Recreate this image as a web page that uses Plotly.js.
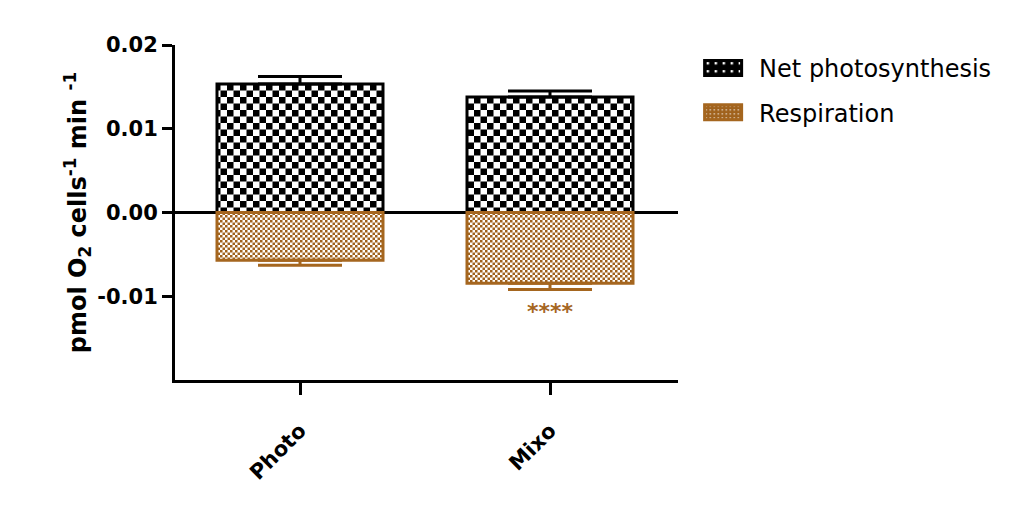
<!DOCTYPE html>
<html>
<head>
<meta charset="utf-8">
<script src="https://cdn.plot.ly/plotly-3.0.1.min.js"></script>
<style>html,body{margin:0;padding:0;background:#fff;}#chart{width:1015px;height:513px;}</style>
</head>
<body>
<div id="chart"></div>
<script>
// ---- data ----
var categories = ['Photo', 'Mixo'];
var netPhotosynthesis = [0.01535, 0.0138];
var netPhotosynthesisErr = [0.0009, 0.0007];
var respiration = [-0.0057, -0.00845];
var respirationErr = [0.0006, 0.00075];
var sigLabels = ['', '****'];
var yTickVals = [-0.01, 0, 0.01, 0.02];
var yTickText = ['-0.01', '0.00', '0.01', '0.02'];

var BROWN = '#A5661F';
var BROWN_FG = '#A0621D';
var FONT = 'DejaVu Sans, Arial, sans-serif';

var zeros = categories.map(function(){ return 0; });

var traceNet = {
  type: 'bar',
  name: 'Net photosynthesis',
  x: categories,
  y: netPhotosynthesis,
  width: 0.664,
  legendgroup: 'a',
  marker: {
    color: '#ffffff',
    line: {color: '#000000', width: 3},
    pattern: {shape: '.', fgcolor: '#000000', bgcolor: '#ffffff', fillmode: 'replace', size: 13, solidity: 0.3}
  },
  error_y: {type: 'data', symmetric: false, array: netPhotosynthesisErr, arrayminus: zeros,
            color: '#000000', thickness: 3, width: 42},
  hoverinfo: 'skip'
};

var traceResp = {
  type: 'bar',
  name: 'Respiration',
  x: categories,
  y: respiration,
  width: 0.664,
  legendgroup: 'b',
  marker: {
    color: '#ffffff',
    line: {color: BROWN, width: 3},
    pattern: {shape: '.', fgcolor: BROWN_FG, bgcolor: '#ffffff', fillmode: 'replace', size: 5, solidity: 0.3}
  },
  error_y: {type: 'data', symmetric: false, array: zeros, arrayminus: respirationErr,
            color: BROWN, thickness: 3, width: 42},
  hoverinfo: 'skip'
};

var annotations = [];
categories.forEach(function(c, i){
  if (sigLabels[i]) {
    annotations.push({
      x: c, y: respiration[i] - respirationErr[i], xref: 'x', yref: 'y',
      text: sigLabels[i], showarrow: false, yanchor: 'top', yshift: -7,
      font: {family: FONT, size: 22, color: BROWN, weight: 'bold'}
    });
  }
});

var layout = {
  width: 1015, height: 513,
  margin: {l: 175, r: 337, t: 45, b: 133},
  paper_bgcolor: '#ffffff', plot_bgcolor: '#ffffff',
  barmode: 'relative',
  showlegend: true,
  font: {family: FONT, color: '#000000'},
  legend: {
    x: 1.04, y: 0.997, xanchor: 'left', yanchor: 'top',
    font: {family: FONT, size: 24, color: '#000000'},
    traceorder: 'grouped', tracegroupgap: 10, itemwidth: 51,
    bgcolor: 'rgba(0,0,0,0)'
  },
  xaxis: {
    range: [-0.5, 1.512],
    showline: true, linecolor: '#000000', linewidth: 3,
    ticks: 'outside', ticklen: 12, tickwidth: 3, tickcolor: '#000000',
    tickangle: -45, ticklabelstandoff: 15,
    tickfont: {family: FONT, size: 21, color: '#000000', weight: 'bold'},
    showgrid: false, zeroline: false, fixedrange: true
  },
  yaxis: {
    range: [-0.02, 0.02],
    tickvals: yTickVals, ticktext: yTickText,
    showline: true, linecolor: '#000000', linewidth: 3,
    ticks: 'outside', ticklen: 10, tickwidth: 3, tickcolor: '#000000',
    tickfont: {family: FONT, size: 21, color: '#000000', weight: 'bold'},
    showgrid: false,
    zeroline: true, zerolinecolor: '#000000', zerolinewidth: 3,
    title: {text: 'pmol O<sub>2</sub> cells<sup>-1</sup> min <sup>-1</sup>', standoff: 4,
            font: {family: FONT, size: 24, color: '#000000', weight: 'bold'}},
    fixedrange: true
  },
  annotations: annotations
};

function checker(gd){
  var svgns = 'http://www.w3.org/2000/svg';
  function rect(p, x, y, w, h, fill){
    var r = document.createElementNS(svgns, 'rect');
    r.setAttribute('x', x); r.setAttribute('y', y);
    r.setAttribute('width', w); r.setAttribute('height', h);
    r.setAttribute('fill', fill);
    p.appendChild(r);
  }
  var pats = gd.querySelectorAll('pattern');
  pats.forEach(function(p){
    var w = parseFloat(p.getAttribute('width'));
    var h = parseFloat(p.getAttribute('height'));
    var isLegend = /scale/.test(p.getAttribute('patternTransform') || '');
    var shape = p.querySelector('circle');
    var fill = shape ? (shape.getAttribute('fill') || shape.style.fill || '') : '';
    var isBlack = /0,\s*0,\s*0|#000/.test(fill);
    var fg = isBlack ? '#000000' : BROWN_FG;
    while (p.firstChild) p.removeChild(p.firstChild);
    var c = w / 2;
    if (isLegend) {
      // legend swatch: mostly solid with small white specks
      rect(p, 0, 0, w, h, fg);
      rect(p, c * 0.5, c * 0.5, c * 0.6, c * 0.6, '#ffffff');
    } else {
      rect(p, 0, 0, w, h, '#ffffff');
      rect(p, 0, 0, c, c, fg);
      rect(p, c, c, c, c, fg);
    }
  });
  // enlarge legend swatches
  gd.querySelectorAll('.legend .legendpoints path').forEach(function(pth){
    pth.setAttribute('d', 'M13,7.5H-24V-7.5H13Z');
  });
}

Plotly.newPlot('chart', [traceNet, traceResp], layout, {displayModeBar: false, staticPlot: true})
  .then(function(gd){ checker(gd); });
</script>
</body>
</html>
